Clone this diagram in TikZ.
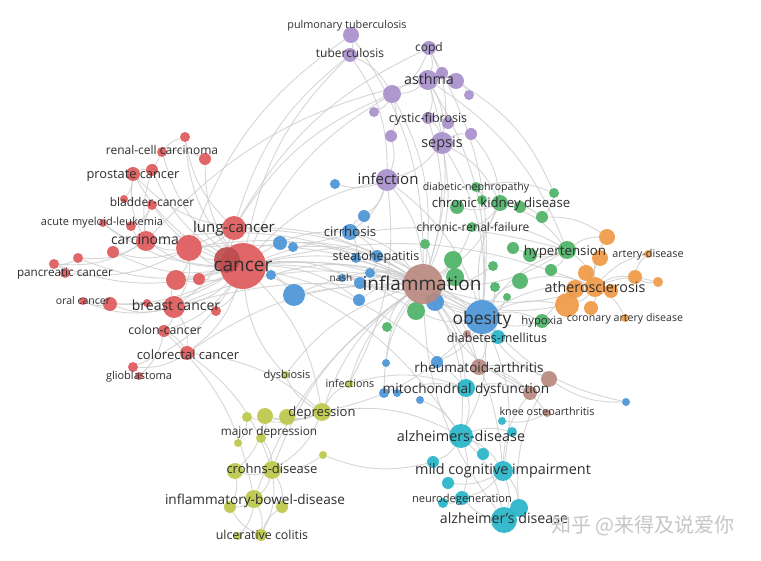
\documentclass[tikz,border=0pt]{standalone}
\usepackage{fontspec}
\setmainfont{Open Sans}
\newfontfamily\cjkfont{Noto Sans CJK SC}
\definecolor{cred}{HTML}{DE5A5C}
\definecolor{cpur}{HTML}{A98FCB}
\definecolor{cblu}{HTML}{4A95D6}
\definecolor{cgrn}{HTML}{4DB366}
\definecolor{corg}{HTML}{F09A45}
\definecolor{cbrn}{HTML}{B98880}
\definecolor{ccyn}{HTML}{26B5C8}
\definecolor{cyel}{HTML}{BCC84A}
\definecolor{ctxt}{HTML}{2E2E2E}
\definecolor{cedge}{HTML}{CCCCCC}
\pgfdeclarelayer{bgfill}
\pgfdeclarelayer{edges}
\pgfdeclarelayer{labels}
\pgfsetlayers{bgfill,edges,main,labels}
\newcommand\bub[5]{\node[circle,inner sep=0pt,minimum size={2*#5pt},fill=#2,fill opacity=0.92] (#1) at (#3,#4) {};}
\newcommand\lb[5]{\node[lbl,font=\fontsize{#4}{#4}\selectfont,yshift={-0.2*#4pt}] (#1) at (#2,#3) {#5};}
\tikzset{
  lbl/.style={anchor=mid,inner sep=0pt,text=ctxt},
  edge/.style={draw=cedge,line width=0.9pt,opacity=0.8}
}
\begin{document}
\begin{tikzpicture}[x=1pt,y=-1pt]
\begin{pgfonlayer}{bgfill}
\fill[white] (0,0) rectangle (761,561);
\end{pgfonlayer}
\useasboundingbox (0,0) rectangle (761,561);
% ---------- red
\bub{rcan}{cred}{243}{266}{23}
\bub{rcan2}{cred!85!black}{227}{260}{13}
\bub{rlung}{cred}{234}{228}{12}
\bub{rbig}{cred}{189}{248}{13}
\bub{rcarc}{cred}{146}{241}{10}
\bub{ra}{cred}{113}{252}{6}
\bub{rb}{cred}{78}{258}{5}
\bub{rpan1}{cred}{54}{264}{5}
\bub{rpan2}{cred}{65}{273}{5}
\bub{roral}{cred}{83}{301}{4}
\bub{rc}{cred}{110}{304}{7}
\bub{rd}{cred}{176}{280}{10}
\bub{re}{cred}{199}{279}{6}
\bub{rbreast}{cred}{174}{307}{11}
\bub{rf}{cred}{216}{311}{5}
\bub{rg}{cred}{147}{303}{4}
\bub{rcolon}{cred}{164}{331}{6}
\bub{rcolo}{cred}{187}{353}{7}
\bub{rgl1}{cred}{133}{367}{5}
\bub{rgl2}{cred}{139}{376}{4}
\bub{rrenal}{cred}{162}{152}{5}
\bub{rh}{cred}{185}{137}{5}
\bub{ri}{cred}{205}{159}{6}
\bub{rpros}{cred}{133}{174}{7}
\bub{rj}{cred}{152}{170}{6}
\bub{rblad1}{cred}{124}{199}{4}
\bub{rblad}{cred}{152}{205}{5}
\bub{raml}{cred}{103}{223}{4}
\bub{rk}{cred}{131}{226}{5}
% ---------- purple
\bub{ppulm}{cpur}{351}{35}{8}
\bub{ptub}{cpur}{350}{55}{7}
\bub{pcopd}{cpur}{429}{48}{7}
\bub{pasth}{cpur}{428}{80}{10}
\bub{pa}{cpur}{442}{73}{6}
\bub{pb}{cpur}{456}{81}{8}
\bub{pc}{cpur}{392}{94}{9}
\bub{pd}{cpur}{469}{95}{5}
\bub{pe}{cpur}{374}{112}{5}
\bub{pcf}{cpur}{428}{118}{6}
\bub{pf}{cpur}{448}{123}{6}
\bub{pg}{cpur}{391}{136}{6}
\bub{ph}{cpur}{471}{134}{6}
\bub{pseps}{cpur}{442}{143}{11}
\bub{pinf}{cpur}{387}{180}{11}
% ---------- blue
\bub{ba}{cblu}{335}{184}{5}
\bub{bb}{cblu}{364}{216}{6}
\bub{bcirr}{cblu}{350}{232}{8}
\bub{bc}{cblu}{356}{258}{5}
\bub{bsteat}{cblu}{377}{256}{6}
\bub{bnash}{cblu}{342}{278}{4}
\bub{bd}{cblu}{370}{273}{5}
\bub{be}{cblu}{360}{283}{6}
\bub{bf}{cblu}{359}{300}{6}
\bub{bg}{cblu}{280}{243}{7}
\bub{bh}{cblu}{293}{247}{5}
\bub{bi}{cblu}{271}{275}{5}
\bub{bj}{cblu}{294}{295}{11}
\bub{bk}{cblu}{435}{302}{9}
\bub{bl}{cblu}{386}{363}{4}
\bub{bm}{cblu}{437}{362}{6}
\bub{bn}{cblu}{384}{393}{5}
\bub{bo}{cblu}{397}{393}{4}
\bub{bp}{cblu}{420}{400}{4}
\bub{bq}{cblu}{626}{402}{4}
% ---------- green
\bub{gdn}{cgrn}{476}{187}{5}
\bub{ga}{cgrn}{554}{193}{5}
\bub{gb}{cgrn}{457}{207}{7}
\bub{gckd}{cgrn}{500}{203}{8}
\bub{gc}{cgrn}{520}{207}{6}
\bub{gd}{cgrn}{542}{217}{6}
\bub{ge}{cgrn}{482}{200}{5}
\bub{gcrf}{cgrn}{472}{227}{5}
\bub{gf}{cgrn}{425}{244}{5}
\bub{gg}{cgrn}{453}{260}{9}
\bub{gh}{cgrn}{455}{277}{9}
\bub{gi}{cgrn}{416}{311}{9}
\bub{gj}{cgrn}{493}{266}{5}
\bub{gk}{cgrn}{495}{287}{5}
\bub{gl}{cgrn}{507}{297}{4}
\bub{gm}{cgrn}{520}{281}{8}
\bub{gn}{cgrn}{513}{248}{6}
\bub{go}{cgrn}{530}{255}{7}
\bub{gp}{cgrn}{551}{270}{6}
\bub{ghyp}{cgrn}{567}{250}{9}
\bub{gq}{cgrn}{387}{327}{5}
\bub{ghyx}{cgrn}{542}{321}{7}
% ---------- orange
\bub{oa}{corg}{607}{237}{8}
\bub{ob}{corg}{600}{258}{8}
\bub{oad}{corg}{648}{254}{4}
\bub{oc}{corg}{586}{273}{8}
\bub{od}{corg}{635}{277}{7}
\bub{oe}{corg}{658}{282}{5}
\bub{of}{corg}{575}{289}{9}
\bub{oath}{corg}{595}{287}{10}
\bub{og}{corg}{611}{291}{7}
\bub{oh}{corg}{567}{305}{12}
\bub{oi}{corg}{591}{308}{7}
\bub{ocad}{corg}{625}{318}{4}
% ---------- brown
\bub{winfl}{cbrn}{423}{284}{20}
\bub{wra}{cbrn}{479}{367}{8}
\bub{wa}{cbrn}{549}{379}{8}
\bub{wb}{cbrn}{530}{393}{7}
\bub{wknee}{cbrn}{547}{413}{4}
\bub{wc}{cbrn}{467}{334}{4}
% ---------- blue obesity (on top of brown)
\bub{bobes}{cblu}{482}{317}{17}
% ---------- cyan
\bub{cdm}{ccyn}{498}{337}{7}
\bub{cmito}{ccyn}{466}{388}{9}
\bub{ca}{ccyn}{502}{421}{4}
\bub{calz}{ccyn}{461}{436}{12}
\bub{cb}{ccyn}{512}{432}{5}
\bub{cc}{ccyn}{483}{454}{6}
\bub{cd}{ccyn}{433}{462}{6}
\bub{cmci}{ccyn}{503}{471}{10}
\bub{ce}{ccyn}{448}{483}{6}
\bub{cf}{ccyn}{443}{503}{5}
\bub{cnd}{ccyn}{462}{498}{7}
\bub{cg}{ccyn}{519}{508}{9}
\bub{cad}{ccyn}{504}{520}{13}
% ---------- yellow-green
\bub{ydys}{cyel}{285}{375}{4}
\bub{yinf}{cyel}{349}{384}{4}
\bub{ydep}{cyel}{322}{412}{9}
\bub{ya}{cyel}{287}{417}{8}
\bub{yb}{cyel}{265}{416}{8}
\bub{yc}{cyel}{247}{417}{5}
\bub{yd}{cyel}{261}{438}{5}
\bub{ye}{cyel}{238}{443}{4}
\bub{yf}{cyel}{323}{455}{4}
\bub{ycd1}{cyel}{235}{471}{8}
\bub{ycd}{cyel}{272}{470}{9}
\bub{yibd}{cyel}{254}{499}{9}
\bub{yg}{cyel}{230}{507}{6}
\bub{yh}{cyel}{282}{507}{6}
\bub{yuc1}{cyel}{238}{536}{4}
\bub{yuc}{cyel}{261}{535}{6}
% ---------- edges
\begin{pgfonlayer}{edges}
\foreach \a/\b in {rcan/rlung,rcan/rbig,rcan/rcarc,rcan/rbreast,rcan/rd,rcan/re,rcan/rcolo,rcan/rcolon,rcan/rpros,rcan/rrenal,rcan/rblad,rcan/raml,rcan/rpan1,rcan/roral,rcan/rc,rcan/rgl1,rcan/rf,rcan/rh,rcan/ri,rcan/rj,rcan/ra,rcan/rb,
rlung/rbig,rlung/rcarc,rlung/rbreast,rlung/rpros,rlung/rh,rbig/rcarc,rbig/rbreast,rbig/rd,rbig/rpan2,rbig/ra,rcarc/rpan1,rcarc/rb,rcarc/raml,rcarc/rk,rcarc/rblad,rcarc/rpros,rcarc/rrenal,
rbreast/rcolon,rbreast/rcolo,rbreast/roral,rbreast/rc,rbreast/rg,rbreast/rd,rcolon/rcolo,rcolo/rgl1,rcolon/rgl2,rpros/rj,rpros/rblad1,rrenal/ri,rrenal/rh,rblad/rk,rb/rpan1,rpan1/rpan2,rc/roral,
rcan/winfl,rcan/bobes,rcan/bj,rcan/bg,rcan/bi,rcan/bcirr,rcan/pc,rcan/ptub,rcan/pinf,rcan/gi,rcan/ydep,rcan/calz,rcan/cmito,rcan/ghyp,rcan/oath,rcan/bk,rcan/bf,rcan/be,
rlung/pc,rlung/pcopd,rlung/ptub,rlung/winfl,rlung/bobes,rbig/winfl,rbig/bobes,rcarc/winfl,rbreast/bobes,rbreast/winfl,rcolo/winfl,rcolo/ydep,rcolon/yibd,rcolo/ycd,rcan2/rbig,rcan2/rd,rbig/ppulm,rcarc/pasth,
ppulm/ptub,ptub/pinf,ptub/pc,pcopd/pasth,pcopd/pc,pcopd/pseps,pasth/pa,pasth/pb,pasth/pc,pasth/pcf,pasth/pseps,pasth/winfl,pasth/bobes,pb/pd,pc/pe,pc/pg,pc/winfl,pcf/pf,pcf/pseps,pcf/winfl,pseps/ph,pseps/pinf,pseps/winfl,pseps/gckd,pseps/bobes,pg/pinf,pinf/winfl,pinf/ba,pinf/bb,pinf/bcirr,pinf/bobes,pinf/yinf,ph/gckd,pasth/ghyp,pcopd/bobes,ppulm/winfl,pb/ga,
bcirr/winfl,bcirr/bb,bcirr/bsteat,bcirr/bc,bsteat/winfl,bsteat/bd,bnash/winfl,bnash/be,bd/winfl,be/winfl,bf/winfl,bg/winfl,bh/winfl,bi/winfl,bj/winfl,bj/bobes,bk/winfl,bobes/winfl,bobes/bm,bl/winfl,bn/winfl,bo/cmito,bp/calz,bq/bobes,bobes/ghyp,bobes/oath,bobes/gm,bobes/cdm,bobes/calz,bobes/wra,bobes/cmci,bobes/ydep,bobes/gckd,bobes/oh,bobes/ghyx,bobes/gi,
gckd/gdn,gckd/gb,gckd/gc,gckd/gd,gckd/ge,gckd/gcrf,gckd/ghyp,gckd/winfl,gcrf/winfl,gcrf/ghyp,gdn/ga,ga/gd,ghyp/go,ghyp/gp,ghyp/gn,ghyp/oath,ghyp/oa,ghyp/winfl,gg/winfl,gh/winfl,gi/winfl,gj/winfl,gk/bobes,gl/bobes,gm/oath,gq/winfl,gf/winfl,ghyx/bobes,ghyx/oath,gd/oa,
oath/oa,oath/ob,oath/oc,oath/od,oath/oe,oath/of,oath/og,oath/oh,oath/oi,oath/ocad,oath/oad,oath/winfl,oh/winfl,od/oad,oe/od,
winfl/wra,winfl/cmito,winfl/calz,winfl/cmci,winfl/cdm,wra/wa,wra/wb,wra/wknee,wa/bobes,wb/winfl,wknee/ca,cmito/calz,cmito/wb,calz/cmci,calz/cb,calz/cc,calz/cd,calz/cad,calz/cnd,cmci/cad,cmci/ce,cmci/cg,cmci/cnd,cnd/cf,cad/cg,cad/cnd,cd/yf,cad/winfl,cdm/wc,cg/wa,cmci/wb,bq/wa,
ydep/ya,ydep/yb,ydep/yinf,ydep/ydys,ydep/winfl,ydep/ycd,ydep/yc,ya/yb,yb/yd,yc/ye,ycd/ycd1,ycd/yibd,ycd/yh,ycd/yuc,yibd/yg,yibd/yh,yibd/yuc,yibd/yuc1,ycd1/yg,yuc/yg,yuc/yh,yibd/winfl,ycd/winfl,yf/ycd,ydys/winfl,ydys/rcan,yinf/winfl,yinf/cmito,yb/ycd1,yd/ycd,ydep/calz}
  \draw[edge] (\a) to[bend left=17] (\b);
\end{pgfonlayer}
% ---------- labels
\begin{pgfonlayer}{labels}
\lb{tcan}{243}{265}{19}{cancer}
\lb{tlung}{234}{227}{15}{lung-cancer}
\lb{tcarc}{145}{239}{14}{carcinoma}
\lb{tpan}{65}{271}{11.7}{pancreatic cancer}
\lb{toral}{83}{300}{10.5}{oral cancer}
\lb{tbreast}{176}{305}{14}{breast cancer}
\lb{tcolon}{165}{329}{12.3}{colon-cancer}
\lb{tcolo}{188}{354}{13}{colorectal cancer}
\lb{tgl}{139}{375}{11}{glioblastoma}
\lb{trenal}{162}{149}{12}{renal-cell carcinoma}
\lb{tpros}{133}{173}{12.8}{prostate cancer}
\lb{tblad}{152}{201}{12}{bladder-cancer}
\lb{taml}{102}{221}{11}{acute myeloid-leukemia}
\lb{tpulm}{347}{24}{10.8}{pulmonary tuberculosis}
\lb{ttub}{350}{52}{12}{tuberculosis}
\lb{tcopd}{429}{46}{12}{copd}
\lb{tasth}{429}{79}{14.3}{asthma}
\lb{tcf}{428}{117}{12.5}{cystic-fibrosis}
\lb{tseps}{442}{142}{14.5}{sepsis}
\lb{tinf}{388}{179}{15}{infection}
\lb{tdn}{476}{186}{10.6}{diabetic-nephropathy}
\lb{tckd}{501}{202}{13.2}{chronic kidney disease}
\lb{tcrf}{473}{226}{12}{chronic-renal-failure}
\lb{tcirr}{350}{231}{13.2}{cirrhosis}
\lb{tsteat}{376}{255}{12.5}{steatohepatitis}
\lb{tnash}{341}{277}{10}{nash}
\lb{tinfl}{422}{284}{19}{inflammation}
\lb{thyp}{565}{250}{13.3}{hypertension}
\lb{tad}{648}{253}{10.8}{artery-disease}
\lb{tath}{595}{287}{14.3}{atherosclerosis}
\lb{tobes}{482}{318}{17.5}{obesity}
\lb{thyx}{542}{320}{11.3}{hypoxia}
\lb{tcad}{625}{317}{10.6}{coronary artery disease}
\lb{tdm}{497}{337}{12.5}{diabetes-mellitus}
\lb{tra}{479}{367}{13.6}{rheumatoid-arthritis}
\lb{tmito}{466}{388}{13.6}{mitochondrial dysfunction}
\lb{tknee}{547}{411}{10.8}{knee osteoarthritis}
\lb{talz}{461}{436}{14.4}{alzheimers-disease}
\lb{tmci}{503}{469}{14.4}{mild cognitive impairment}
\lb{tnd}{462}{498}{11.1}{neurodegeneration}
\lb{tadz}{504}{518}{14.2}{alzheimer's disease}
\lb{tdys}{287}{374}{11}{dysbiosis}
\lb{tyinf}{350}{383}{10.7}{infections}
\lb{tdep}{322}{411}{13}{depression}
\lb{tmaj}{269}{430}{11.8}{major depression}
\lb{tcd}{272}{468}{13}{crohns-disease}
\lb{tibd}{255}{499}{13.6}{inflammatory-bowel-disease}
\lb{tuc}{262}{534}{12.4}{ulcerative colitis}
\node[inner sep=0pt,anchor=mid,text=gray!45,font=\cjkfont\fontsize{20}{20}\selectfont] (wm) at (643,530) {知乎 @来得及说爱你};
\end{pgfonlayer}
\end{tikzpicture}
\end{document}
